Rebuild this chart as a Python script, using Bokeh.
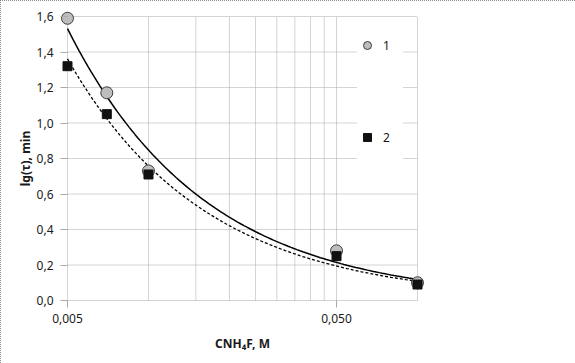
import numpy as np
from bokeh.plotting import figure
from bokeh.models import FixedTicker, Legend, LegendItem, ColumnDataSource, Range1d
from bokeh.embed import file_html
from bokeh.resources import INLINE

# ---- data ----
conc = [0.005, 0.007, 0.010, 0.050, 0.100]      # C NH4F, M
lg_tau_1 = [1.59, 1.17, 0.73, 0.28, 0.10]       # series 1 (circles)
lg_tau_2 = [1.32, 1.05, 0.71, 0.25, 0.09]       # series 2 (squares)
x_min, x_max = 0.005, 0.1
y_min, y_max = 0.0, 1.6
x_ticks = [0.005, 0.05]
x_tick_labels = {0.005: "0,005", 0.05: "0,050"}
x_grid = [0.005, 0.01, 0.015, 0.02, 0.025, 0.03, 0.035, 0.04, 0.045, 0.05, 0.1]
y_ticks = [0.0, 0.2, 0.4, 0.6, 0.8, 1.0, 1.2, 1.4, 1.6]
y_tick_labels = {0.0: "0,0", 0.2: "0,2", 0.4: "0,4", 0.6: "0,6", 0.8: "0,8",
                 1.0: "1,0", 1.2: "1,2", 1.4: "1,4", 1.6: "1,6"}

FONT = "Noto Sans"
GRID = "#a8a8a8"
TEXT = "#1a1a1a"

# inner plot box 350 x 284 px; frame padded by PAD px so markers are not clipped
BOX_W, BOX_H, PAD = 350, 284, 7
px_per_dec = BOX_W / (np.log10(x_max) - np.log10(x_min))
px_per_unit = BOX_H / (y_max - y_min)
xr = Range1d(10 ** (np.log10(x_min) - PAD / px_per_dec), 10 ** (np.log10(x_max) + PAD / px_per_dec))
yr = Range1d(y_min - PAD / px_per_unit, y_max + PAD / px_per_unit)

p = figure(output_backend="svg", toolbar_location=None,
           x_axis_type="log",
           frame_width=BOX_W + 2 * PAD, frame_height=BOX_H + 2 * PAD,
           min_border_left=67 - PAD, min_border_right=575 - 417 - PAD,
           min_border_top=16 - PAD, min_border_bottom=363 - 300 - PAD,
           x_range=xr, y_range=yr)
p.styles = {"outline": "1px dotted #666666", "outline-offset": "-1px"}
p.background_fill_color = "white"
p.border_fill_color = "white"
p.outline_line_color = None
p.xgrid.visible = False
p.ygrid.visible = False

# dotted grid / plot box drawn from the tick arrays
p.segment(x0=x_grid, y0=[y_min] * len(x_grid), x1=x_grid, y1=[y_max] * len(x_grid),
          line_color=GRID, line_dash="1 1", line_width=1)
p.segment(x0=[x_min] * len(y_ticks), y0=y_ticks, x1=[x_max] * len(y_ticks), y1=y_ticks,
          line_color=GRID, line_dash="1 1", line_width=1)

# axes (sit at the padded frame edge; ticks reach in to the plot box)
p.xaxis.ticker = FixedTicker(ticks=x_ticks)
p.xaxis.major_label_overrides = x_tick_labels
p.yaxis.ticker = FixedTicker(ticks=y_ticks)
p.yaxis.major_label_overrides = y_tick_labels
for ax in (p.xaxis, p.yaxis):
    ax.axis_line_color = None
    ax.major_tick_line_color = GRID
    ax.minor_tick_line_color = None
    ax.major_tick_in = PAD
    ax.major_tick_out = 0
    ax.major_label_text_font = FONT
    ax.major_label_text_font_size = "12px"
    ax.major_label_text_color = TEXT
    ax.axis_label_text_font = FONT
    ax.axis_label_text_font_size = "12px"
    ax.axis_label_text_font_style = "bold"
    ax.axis_label_text_color = TEXT
p.xaxis.major_label_standoff = 6
p.yaxis.major_label_standoff = 7
p.xaxis.axis_label = "CNH\u2084F, M"
p.yaxis.axis_label = "lg(\u03c4), min"
p.xaxis.axis_label_standoff = 9
p.yaxis.axis_label_standoff = 0

# power-law trend lines (least squares in log-log space, as a spreadsheet trendline)
xs = np.logspace(np.log10(conc[0]), np.log10(conc[-1]), 120)
b1, a1 = np.polyfit(np.log(conc), np.log(lg_tau_1), 1)
b2, a2 = np.polyfit(np.log(conc), np.log(lg_tau_2), 1)
p.line(xs, np.exp(a1) * xs ** b1, line_color="black", line_width=1.5)
p.line(xs, np.exp(a2) * xs ** b2, line_color="black", line_width=1.3, line_dash="3 2")

src = ColumnDataSource(dict(x=conc, y1=lg_tau_1, y2=lg_tau_2))
r1 = p.scatter("x", "y1", source=src, marker="circle", size=12,
               fill_color="#bdbdbd", line_color="#3c3c3c", line_width=1)
r2 = p.scatter("x", "y2", source=src, marker="square", size=9,
               fill_color="#111111", line_color="#111111", line_width=1)
blank = p.scatter(x=[], y=[], marker="circle", fill_alpha=0, line_alpha=0)

legend = Legend(items=[LegendItem(label="1", renderers=[r1]),
                       LegendItem(label=" ", renderers=[blank]),
                       LegendItem(label="2", renderers=[r2]),
                       LegendItem(label=" ", renderers=[blank])],
                location=(297, 114), orientation="vertical",
                glyph_width=20, glyph_height=20, label_height=20,
                spacing=26, padding=12, margin=0, label_standoff=6,
                border_line_color=None, background_fill_color="white",
                background_fill_alpha=1.0,
                label_text_font=FONT, label_text_font_size="12px",
                label_text_color=TEXT)
p.add_layout(legend)

open("out.html", "w").write(file_html(p, INLINE))
